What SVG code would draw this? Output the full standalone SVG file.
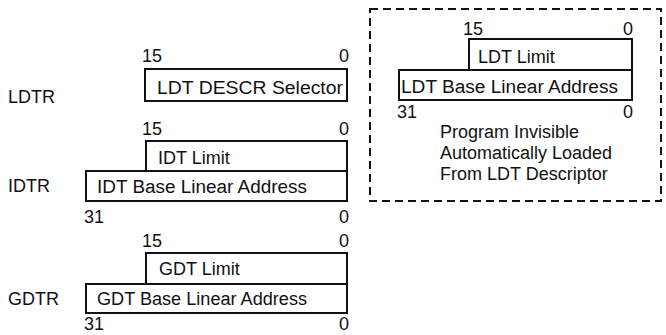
<svg xmlns="http://www.w3.org/2000/svg" width="666" height="335" viewBox="0 0 666 335">
<style>
text{font-family:"Liberation Sans",Arial,sans-serif;font-size:18px;fill:#111}
.e{text-anchor:end}
.b{fill:#fff;stroke:#111;stroke-width:2}
.d{fill:none;stroke:#111;stroke-width:2;stroke-dasharray:8 5}
</style>
<rect width="666" height="335" fill="#fff"/>
<g id="ldtr">
<text x="8" y="103">LDTR</text>
<text x="142" y="62">15</text>
<text class="e" x="349" y="62">0</text>
<rect class="b" x="145" y="69" width="202" height="32"/>
<text x="157" y="94" textLength="186" lengthAdjust="spacingAndGlyphs">LDT DESCR Selector</text>
</g>
<g id="idtr">
<text x="8" y="192">IDTR</text>
<text x="142" y="135">15</text>
<text class="e" x="349" y="135">0</text>
<rect class="b" x="146" y="141" width="201" height="30"/>
<text x="158" y="164">IDT Limit</text>
<rect class="b" x="86" y="171" width="261" height="30"/>
<text x="97" y="193" textLength="210" lengthAdjust="spacingAndGlyphs">IDT Base Linear Address</text>
<text x="84" y="223">31</text>
<text class="e" x="349" y="223">0</text>
</g>
<g id="gdtr">
<text x="8" y="305">GDTR</text>
<text x="142" y="247">15</text>
<text class="e" x="349" y="247">0</text>
<rect class="b" x="146" y="253" width="201" height="31"/>
<text x="159" y="275">GDT Limit</text>
<rect class="b" x="86" y="284" width="261" height="29"/>
<text x="97" y="305" textLength="210" lengthAdjust="spacingAndGlyphs">GDT Base Linear Address</text>
<text x="84" y="330">31</text>
<text class="e" x="349" y="330">0</text>
</g>
<g id="ldt-cache">
<rect class="d" x="370" y="9" width="291" height="192"/>
<text x="463" y="35">15</text>
<text class="e" x="633" y="35">0</text>
<rect class="b" x="469" y="39" width="163" height="31"/>
<text x="478" y="63">LDT Limit</text>
<rect class="b" x="399" y="70" width="233" height="30"/>
<text x="401" y="93" textLength="217" lengthAdjust="spacingAndGlyphs">LDT Base Linear Address</text>
<text x="397" y="118">31</text>
<text class="e" x="633" y="118">0</text>
<text x="440" y="138">Program Invisible</text>
<text x="440" y="159">Automatically Loaded</text>
<text x="440" y="180">From LDT Descriptor</text>
</g>
<g id="connectors"></g>
</svg>
